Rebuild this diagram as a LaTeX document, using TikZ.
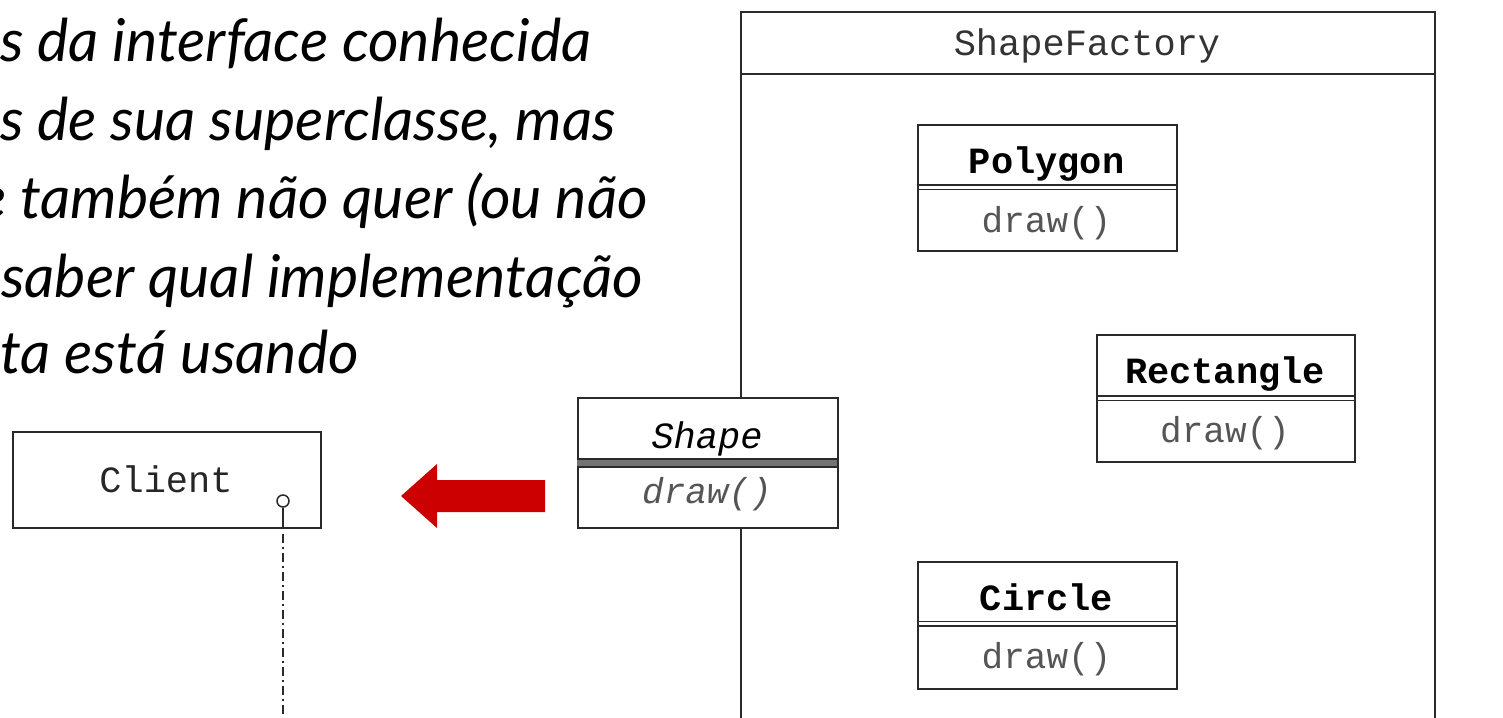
\documentclass[tikz,border=0pt]{standalone}
\usepackage{fontspec}
\setmainfont{Lato}
\setmonofont{Liberation Mono}
\definecolor{lc}{HTML}{2A2A2A}
\definecolor{txtgray}{HTML}{555555}
\definecolor{arrowred}{HTML}{CC0000}
\begin{document}
\begin{tikzpicture}[x=1pt,y=-1pt,
  slide/.style={anchor=base west, inner sep=0pt, font=\fontsize{59}{70}\selectfont\itshape},
  box/.style={draw=lc, line width=1.8pt, fill=white, inner sep=0pt, anchor=north west},
  cname/.style={anchor=base, inner sep=0pt, font=\fontsize{37}{40}\selectfont\ttfamily\bfseries, text=black},
  cmeth/.style={anchor=base, inner sep=0pt, font=\fontsize{36}{40}\selectfont\ttfamily, text=txtgray},
  sepline/.style={draw=lc, line width=1.3pt}]
\useasboundingbox (0,0) rectangle (1503,717);
\clip (0,0) rectangle (1503,717);

% slide text
\node[slide] (l1) at (0,62) {s da interface conhecida};
\node[slide] (l2) at (0,140) {s de sua superclasse, mas};
\node[slide] (l3) at (-22,218) {e também não quer (ou não};
\node[slide] (l4) at (1,297) {saber qual implementação};
\node[slide] (l5) at (0,373) {ta está usando};

% ShapeFactory container
\node[box, fill=none, minimum width=694pt, minimum height=740pt] (factory) at (740,11) {};
\draw[lc, line width=1.8pt] (740,74) -- (1434,74);
\node[anchor=base, inner sep=0pt, font=\fontsize{37}{40}\selectfont\ttfamily, text=black!80] (factoryname) at (1087,56) {ShapeFactory};

% Polygon
\node[box, minimum width=259pt, minimum height=126pt] (poly) at (917,124) {};
\draw[sepline] (poly.west |- 0,185) -- (poly.east |- 0,185);
\draw[sepline] (poly.west |- 0,189.5) -- (poly.east |- 0,189.5);
\node[cname] (polyname) at (1046.5,173) {Polygon};
\node[cmeth] (polymeth) at (1046.5,232) {draw()};

% Rectangle
\node[box, minimum width=258pt, minimum height=127pt] (rect) at (1096,334) {};
\draw[sepline] (rect.west |- 0,396) -- (rect.east |- 0,396);
\draw[sepline] (rect.west |- 0,400.5) -- (rect.east |- 0,400.5);
\node[cname] (rectname) at (1225,383) {Rectangle};
\node[cmeth] (rectmeth) at (1225,442) {draw()};

% Circle
\node[box, minimum width=259pt, minimum height=127pt] (circ) at (917,561) {};
\draw[sepline] (circ.west |- 0,621.5) -- (circ.east |- 0,621.5);
\draw[sepline] (circ.west |- 0,626) -- (circ.east |- 0,626);
\node[cname] (circname) at (1046.5,610) {Circle};
\node[cmeth] (circmeth) at (1046.5,668) {draw()};

% Shape (abstract)
\node[box, minimum width=260pt, minimum height=130pt] (shape) at (577,397) {};
\fill[black!55] (577,459) rectangle (837,467);
\draw[sepline] (shape.west |- 0,459) -- (shape.east |- 0,459);
\draw[sepline] (shape.west |- 0,467) -- (shape.east |- 0,467);
\node[anchor=base, inner sep=0pt, font=\fontsize{37}{40}\selectfont\ttfamily\itshape, text=black] (shapename) at (707,448) {Shape};
\node[anchor=base, inner sep=0pt, font=\fontsize{36}{40}\selectfont\ttfamily\itshape, text=txtgray] (shapemeth) at (707,503) {draw()};

% Client
\node[box, minimum width=308pt, minimum height=96pt] (client) at (12,431) {};
\node[anchor=base, inner sep=0pt, font=\fontsize{37}{40}\selectfont\ttfamily, text=black!85] (clientname) at (166,492) {Client};
\node[circle, draw=lc, line width=1.5pt, minimum size=12pt, inner sep=0pt] (lolli) at (283,501) {};
\draw[lc, line width=1.5pt] (lolli.south) -- (lolli.south |- client.south);
\coordinate (lineend) at (283,720);
\draw[lc, line width=1.5pt, dash pattern=on 9pt off 4pt on 2pt off 4pt] (283,534) -- (lineend);

% red arrow
\fill[arrowred] (545,480) -- (437,480) -- (437,464) -- (401,496) -- (437,528) -- (437,512) -- (545,512) -- cycle;
\end{tikzpicture}
\end{document}
